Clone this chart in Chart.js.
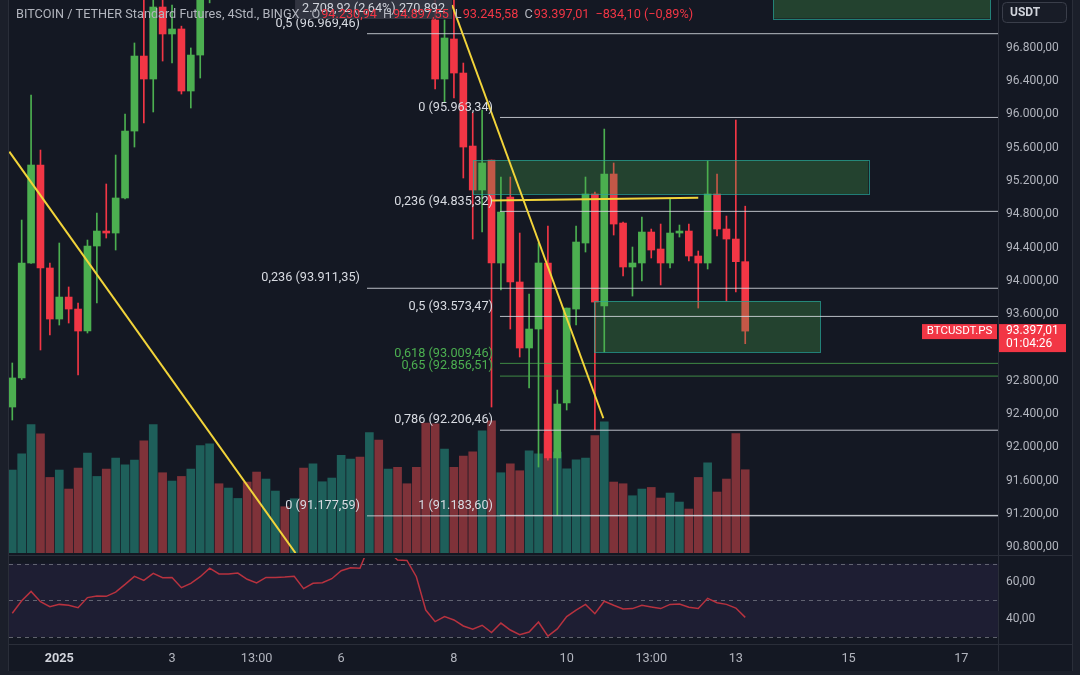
<!DOCTYPE html>
<html lang="de">
<head>
<meta charset="UTF-8" />
<title>BTCUSDT.PS 4Std. - BINGX</title>
<style>
  html, body { margin: 0; padding: 0; background: #141823; }
  body { width: 1080px; height: 675px; overflow: hidden; position: relative; font-family: Roboto, "Noto Sans", sans-serif; }
  .pane { position: absolute; left: 0; width: 1080px; }
  #mainPane { top: 0; height: 553px; }
  #rsiPane { top: 553px; height: 122px; }
  .rule { position: absolute; background: #2a2e39; pointer-events: none; }
</style>
</head>
<body>
<div class="pane" id="mainPane"><canvas id="mainChart"></canvas></div>
<div class="pane" id="rsiPane"><canvas id="rsiChart"></canvas></div>

<!-- frame and pane separators -->
<div class="rule" style="left:0;top:0;width:8px;height:675px;background:#1b1f2a"></div>
<div class="rule" style="left:8px;top:0;width:1px;height:671px"></div>
<div class="rule" style="left:998px;top:0;width:1px;height:671px"></div>
<div class="rule" style="left:1073px;top:0;width:7px;height:675px;background:#1b1f2a"></div>
<div class="rule" style="left:1072px;top:0;width:1px;height:671px"></div>
<div class="rule" style="left:9px;top:555px;width:1064px;height:1px"></div>
<div class="rule" style="left:9px;top:644px;width:1064px;height:1px"></div>
<div class="rule" style="left:0;top:671px;width:1080px;height:4px;background:#1b1f2a"></div>

<script src="https://cdn.jsdelivr.net/npm/chart.js"></script>
<script>
  // 4h candles, BTC/USDT perpetual, 31.12.2024 21:00 .. 13.01.2025 05:00
  const opens = [
    92485, 92834, 94215, 95392, 94155, 93542, 93806, 93662, 93398, 94419,
    94599, 94575, 94996, 95800, 96701, 96425, 97290, 96966, 97026, 96281,
    96713, 97560, 97950, 97700, 98200, 98600, 98150, 97900, 98150, 98350,
    98050, 98250, 97950, 98200, 98450, 98900, 99450, 100200, 99900, 102100,
    101700, 102200, 101600, 101100, 99300, 97134, 96425, 96906, 96497, 95620,
    95092, 95452, 94215, 95008, 93987, 93194, 93422, 94215, 91873, 92533,
    93662, 94455, 95044, 93698, 95284, 94695, 94167, 94215, 94587, 94383,
    94215, 94575, 94599, 94299, 94215, 95044, 94623, 94503, 94230.94,
  ];
  const highs = [
    93014, 94731, 96233, 95572, 94215, 94455, 93927, 93734, 94491, 94815,
    95164, 95512, 96005, 96858, 97480, 97520, 97430, 97314, 97060, 96798,
    97750, 98100, 98300, 98400, 98800, 98700, 98300, 98300, 98500, 98400,
    98350, 98400, 98300, 98600, 99000, 99600, 100400, 100500, 102500, 102300,
    102700, 102400, 101800, 101300, 99500, 97500, 97134, 97380, 96617, 96017,
    96053, 95452, 95248, 95248, 94575, 93842, 94455, 94659, 92689, 93674,
    94659, 95248, 95068, 95824, 95416, 94707, 94407, 94767, 94623, 94683,
    94984, 94671, 94683, 94359, 95440, 95284, 94779, 95933, 94897.55,
  ];
  const lows = [
    92329, 92815, 94210, 93170, 93350, 93470, 93494, 92870, 93374, 93734,
    94515, 94371, 94984, 95608, 95897, 96029, 96641, 96617, 96245, 96077,
    96437, 97340, 97600, 97600, 98000, 98000, 97700, 97800, 98000, 97950,
    97900, 97800, 97850, 98100, 98300, 98800, 99300, 99700, 99800, 101400,
    101500, 101300, 100800, 99000, 97420, 96305, 96149, 96197, 95236, 94503,
    94587, 92485, 93891, 93422, 93086, 92713, 91764, 91848, 91184, 92449,
    93470, 94347, 92209, 93146, 94551, 94059, 93818, 93999, 94275, 93951,
    94155, 94527, 94239, 93674, 94143, 94539, 93758, 93867, 93245.58,
  ];
  const closes = [
    92834, 94215, 95392, 94155, 93542, 93806, 93662, 93398, 94419, 94599,
    94575, 94996, 95800, 96701, 96425, 97290, 96966, 97026, 96281, 96713,
    97560, 97950, 97700, 98200, 98600, 98150, 97900, 98150, 98350, 98050,
    98250, 97950, 98200, 98450, 98900, 99450, 100200, 99900, 102100, 101700,
    102200, 101600, 101100, 99300, 97450, 96425, 96918, 96497, 95608, 95092,
    95416, 94215, 94827, 93987, 93194, 93422, 94215, 91873, 92521, 93674,
    94467, 95044, 93746, 95284, 94683, 94167, 94215, 94587, 94371, 94215,
    94575, 94599, 94299, 94215, 95044, 94623, 94503, 94231.11, 93397.01,
  ];
  // volume per candle, thousands
  const volumeK = [
    8.30, 9.93, 12.86, 11.93, 7.56, 8.30, 6.40, 8.50, 10.00, 7.66,
    8.40, 9.50, 8.83, 9.30, 11.23, 12.86, 8.03, 7.20, 7.66, 8.40,
    10.76, 10.93, 6.93, 6.50, 5.46, 7.10, 8.10, 7.40, 6.20, 4.63,
    5.43, 8.50, 8.93, 7.13, 7.50, 9.76, 9.40, 9.60, 12.06, 11.30,
    8.40, 8.56, 6.93, 8.56, 13.00, 12.93, 10.40, 8.56, 9.70, 10.13,
    12.23, 13.23, 8.03, 8.93, 8.23, 10.23, 9.93, 12.00, 10.10, 8.43,
    9.33, 9.50, 11.76, 13.13, 7.10, 6.93, 5.73, 6.40, 6.56, 5.50,
    6.00, 5.10, 4.40, 7.56, 9.03, 6.10, 7.40, 11.96, 8.33,
  ];
  const rsiValues = [
    43.0, 49.8, 54.9, 49.3, 46.5, 47.8, 47.3, 46.0, 51.5, 52.4,
    52.2, 54.5, 58.7, 63.1, 60.9, 64.7, 62.4, 62.5, 56.9, 59.3,
    62.9, 67.6, 64.4, 64.4, 64.9, 61.5, 59.5, 62.5, 62.5, 62.7,
    63.1, 56.4, 59.3, 59.6, 61.8, 66.2, 67.8, 67.5, 80.0, 78.0,
    77.0, 72.0, 71.8, 62.9, 44.7, 38.4, 41.1, 39.3, 36.0, 34.2,
    36.4, 32.4, 37.6, 33.8, 31.3, 32.7, 38.2, 30.5, 34.4, 41.1,
    44.7, 47.8, 42.7, 49.5, 47.3, 45.3, 45.5, 47.3, 46.4, 45.5,
    47.8, 48.0, 46.2, 45.6, 51.1, 48.7, 47.8, 45.8, 40.7,
  ];

  // axis ticks (x in candle numbers)
  const timeTickIdx = [5, 17, 26, 35, 47, 59, 68, 77, 89, 101];
  const timeTickLabels = ["2025", "3", "13:00", "6", "8", "10", "13:00", "13", "15", "17"];
  const priceTicks = [90800, 91200, 91600, 92000, 92400, 92800, 93600, 94000, 94400, 94800, 95200, 95600, 96000, 96400, 96800];
  const rsiTicks = [40, 60];
  const rsiBands = [70, 50, 30];

  // fibonacci retracements
  const fibAStart = 37.75;
  const fibALevels = ["0,5", "0,236", "0"];
  const fibAPrices = [96969.46, 93911.35, 91177.59];
  const fibBStart = 51.9;
  const fibBLevels = ["0", "0,236", "0,5", "0,618", "0,65", "0,786", "1"];
  const fibBPrices = [95963.34, 94835.32, 93573.47, 93009.46, 92856.51, 92206.46, 91183.6];

  // trend lines [candle, price]
  const trendFrom = [[-0.32, 95552], [46.8, 97314], [50.95, 94966]];
  const trendTo = [[30.14, 90731], [62.9, 92350], [73.0, 95000]];

  // zones [candle from, candle to, price top, price bottom]
  const zones = [
    [49.0, 91.1, 95452, 95044],
    [61.9, 86.0, 93759, 93142],
    [81.0, 104.1, 97700, 97152],
  ];

  const seriesTitle = "BITCOIN / TETHER Standard Futures, 4Std., BINGX";
  const symbolTag = "BTCUSDT.PS";
  const measureText = "2.708,92 (2,64%) 270.892";
  const countdown = "01:04:26";

  // visible window
  const xMin = -0.35, xMax = 104.9;
  const priceMin = 90731.5, priceMax = 97374.2;
  const volMax = 55.33;
  const rsiMin = 26.18, rsiMax = 73.11;

  const UP = "#4caf50", DOWN = "#f23645";
  const VOL_UP = "#1e5f5a", VOL_DOWN = "#7f3239";
  const FONT = "Roboto";
  const greenLevels = ["0,618", "0,65"];

  function de(v, d) {
    const neg = v < 0;
    let [a, b] = Math.abs(v).toFixed(d).split(".");
    a = a.replace(/\B(?=(\d{3})+(?!\d))/g, ".");
    return (neg ? "\u2212" : "") + a + (b ? "," + b : "");
  }

  const isUp = opens.map((o, i) => closes[i] >= o);

  const fibDatasets = [];
  fibAPrices.forEach((p) => {
    fibDatasets.push({
      type: "line", yAxisID: "y", order: 5, clip: 0,
      data: [{ x: fibAStart, y: p }, { x: xMax + 1, y: p }],
      borderColor: "rgba(214,217,224,0.85)", borderWidth: 1, pointRadius: 0,
    });
  });
  fibBPrices.forEach((p, k) => {
    const green = greenLevels.includes(fibBLevels[k]);
    fibDatasets.push({
      type: "line", yAxisID: "y", order: 5, clip: 0,
      data: [{ x: fibBStart, y: p }, { x: xMax + 1, y: p }],
      borderColor: green ? "rgba(76,175,80,0.75)" : "rgba(214,217,224,0.85)", borderWidth: 1, pointRadius: 0,
    });
  });
  const trendDatasets = trendFrom.map((f, k) => ({
    type: "line", yAxisID: "y", order: 4, clip: 0,
    data: [{ x: f[0], y: f[1] }, { x: trendTo[k][0], y: trendTo[k][1] }],
    borderColor: "#f2d43a", borderWidth: 2, pointRadius: 0,
  }));

  const mainOverlay = {
    id: "mainOverlay",
    afterDatasetDraw(chart, args) {
      if (args.index !== 2) return; // zones go over the candle bodies
      const { ctx, chartArea, scales: { x, y } } = chart;
      ctx.save();
      ctx.beginPath();
      ctx.rect(chartArea.left, chartArea.top, chartArea.width, chartArea.height);
      ctx.clip();
      zones.forEach((z) => {
        const x0 = x.getPixelForValue(z[0]), x1 = x.getPixelForValue(z[1]);
        const y0 = y.getPixelForValue(z[2]), y1 = y.getPixelForValue(z[3]);
        ctx.fillStyle = "rgba(76,175,80,0.28)";
        ctx.fillRect(x0, y0, x1 - x0, y1 - y0);
        ctx.strokeStyle = "rgba(38,166,154,0.7)";
        ctx.lineWidth = 1;
        ctx.strokeRect(Math.round(x0) + 0.5, Math.round(y0) + 0.5, Math.round(x1 - x0), Math.round(y1 - y0));
      });
      ctx.restore();
    },
    afterDatasetsDraw(chart) {
      const { ctx, scales: { x, y } } = chart;
      ctx.save();
      ctx.font = "12.7px " + FONT;
      ctx.textAlign = "right";
      ctx.textBaseline = "middle";
      const put = (start, levels, prices) => {
        const lx = x.getPixelForValue(start) - 7;
        levels.forEach((lv, k) => {
          ctx.fillStyle = greenLevels.includes(lv) && levels === fibBLevels ? "#4caf50" : "#d8dbe2";
          ctx.fillText(lv + " (" + de(prices[k], 2) + ")", lx, y.getPixelForValue(prices[k]) - 10);
        });
      };
      put(fibAStart, fibALevels, fibAPrices);
      put(fibBStart, fibBLevels, fibBPrices);
      ctx.restore();
    },
    afterDraw(chart) {
      const { ctx, scales: { x, y } } = chart;
      const last = closes.length - 1;
      ctx.save();
      ctx.font = "12.7px " + FONT;
      ctx.textBaseline = "middle";

      // trend line measurement label
      const mw = ctx.measureText(measureText).width;
      const mx1 = x.getPixelForValue(trendFrom[1][0]);
      ctx.fillStyle = "rgba(54,58,69,0.85)";
      ctx.fillRect(mx1 - mw - 14, 0, mw + 14, 19);
      ctx.fillStyle = "#d1d4dc";
      ctx.textAlign = "center";
      ctx.fillText(measureText, mx1 - mw / 2 - 7, 9);

      // legend row
      ctx.textAlign = "left";
      let px = 16;
      ctx.fillStyle = "#b2b5be";
      ctx.fillText(seriesTitle, px, 15);
      px += ctx.measureText(seriesTitle).width + 12;
      const chg = closes[last] - closes[last - 1];
      [["O", opens[last]], ["H", highs[last]], ["L", lows[last]], ["C", closes[last]]].forEach(([k, v]) => {
        ctx.fillStyle = "#b2b5be";
        ctx.fillText(k, px, 15);
        px += ctx.measureText(k).width + 1;
        ctx.fillStyle = DOWN;
        const s = de(v, 2);
        ctx.fillText(s, px, 15);
        px += ctx.measureText(s).width + 6;
      });
      ctx.fillText(de(chg, 2) + " (" + de((chg / closes[last - 1]) * 100, 2) + "%)", px, 15);

      // currency button
      ctx.strokeStyle = "#3a3e4a";
      ctx.fillStyle = "#181c27";
      ctx.beginPath();
      ctx.roundRect(1002.5, 2.5, 64, 20, 4);
      ctx.fill();
      ctx.stroke();
      ctx.fillStyle = "#d1d4dc";
      ctx.font = "bold 12px " + FONT;
      ctx.fillText("USDT", 1010, 13);

      // last price label
      const yc = y.getPixelForValue(closes[last]);
      ctx.fillStyle = DOWN;
      ctx.fillRect(999, yc - 7, 67, 28);
      ctx.fillRect(922, yc - 7, 75, 15);
      ctx.fillStyle = "#ffffff";
      ctx.font = "12px " + FONT;
      ctx.fillText(de(closes[last], 2), 1006, yc);
      ctx.fillText(countdown, 1006, yc + 13);
      ctx.font = "11.5px " + FONT;
      ctx.textAlign = "center";
      ctx.fillText(symbolTag, 959.5, yc + 0.5);
      ctx.restore();
    },
  };

  new Chart(document.getElementById("mainChart"), {
    type: "bar",
    data: {
      datasets: [
        {
          label: "Volumen",
          yAxisID: "yv",
          order: 10,
          grouped: false,
          barThickness: 8,
          data: volumeK.map((v, i) => ({ x: i, y: v })),
          backgroundColor: isUp.map((u) => (u ? VOL_UP : VOL_DOWN)),
        },
        {
          label: "Docht",
          yAxisID: "y",
          order: 9,
          grouped: false,
          clip: 0,
          barThickness: 1,
          data: lows.map((l, i) => ({ x: i, y: [l, highs[i]] })),
          backgroundColor: isUp.map((u) => (u ? UP : DOWN)),
        },
        {
          label: "Kerze",
          yAxisID: "y",
          order: 8,
          grouped: false,
          clip: 0,
          barThickness: 7,
          minBarLength: 1,
          data: opens.map((o, i) => ({ x: i, y: [o, closes[i]] })),
          backgroundColor: isUp.map((u) => (u ? UP : DOWN)),
        },
        ...fibDatasets,
        ...trendDatasets,
      ],
    },
    options: {
      responsive: true,
      maintainAspectRatio: false,
      animation: false,
      devicePixelRatio: 1,
      events: [],
      layout: { padding: { left: 9, right: 0, top: 0, bottom: 0 } },
      plugins: { legend: { display: false }, tooltip: { enabled: false } },
      scales: {
        x: { type: "linear", min: xMin, max: xMax, offset: false, display: false, grid: { display: false } },
        y: {
          type: "linear",
          position: "right",
          min: priceMin,
          max: priceMax,
          grid: { display: false, drawTicks: false },
          border: { display: false },
          afterBuildTicks(s) { s.ticks = priceTicks.map((v) => ({ value: v })); },
          afterFit(s) { s.width = 82; s.paddingTop = 0; s.paddingBottom = 0; },
          ticks: { padding: 8, color: "#b2b5be", font: { family: FONT, size: 12 }, callback: (v) => de(v, 2) },
        },
        yv: { type: "linear", position: "right", display: false, min: 0, max: volMax },
      },
    },
    plugins: [mainOverlay],
  });

  const rsiBackdrop = {
    id: "rsiBackdrop",
    beforeDatasetsDraw(chart) {
      const { ctx, chartArea, scales: { y } } = chart;
      const yTop = y.getPixelForValue(rsiBands[0]);
      const yBot = y.getPixelForValue(rsiBands[rsiBands.length - 1]);
      ctx.save();
      ctx.fillStyle = "rgba(126,87,194,0.1)";
      ctx.fillRect(chartArea.left, yTop, chartArea.width, yBot - yTop);
      ctx.strokeStyle = "rgba(120,123,134,0.75)";
      ctx.lineWidth = 1;
      ctx.setLineDash([4, 4]);
      rsiBands.forEach((b) => {
        const yy = Math.round(y.getPixelForValue(b)) + 0.5;
        ctx.beginPath();
        ctx.moveTo(chartArea.left, yy);
        ctx.lineTo(chartArea.right, yy);
        ctx.stroke();
      });
      ctx.restore();
    },
  };

  new Chart(document.getElementById("rsiChart"), {
    type: "line",
    data: {
      datasets: [
        {
          label: "RSI",
          data: rsiValues.map((v, i) => ({ x: i, y: v })),
          borderColor: "#b8323f",
          borderWidth: 1.5,
          pointRadius: 0,
          tension: 0,
          clip: 0,
        },
      ],
    },
    options: {
      responsive: true,
      maintainAspectRatio: false,
      animation: false,
      devicePixelRatio: 1,
      events: [],
      layout: { padding: { left: 9, right: 0, top: 5, bottom: 0 } },
      plugins: { legend: { display: false }, tooltip: { enabled: false } },
      scales: {
        x: {
          type: "linear",
          min: xMin,
          max: xMax,
          offset: false,
          grid: { display: false, drawTicks: false },
          border: { display: false },
          afterBuildTicks(s) { s.ticks = timeTickIdx.map((v) => ({ value: v })); },
          afterFit(s) { s.height = 31; s.paddingLeft = 0; s.paddingRight = 0; },
          ticks: {
            autoSkip: false,
            maxRotation: 0,
            padding: 7,
            callback: (v, i) => timeTickLabels[i],
            color: (c) => (c.index === 0 ? "#d1d4dc" : "#b2b5be"),
            font: (c) => ({ family: FONT, size: 12.7, weight: c.index === 0 ? "bold" : "normal" }),
          },
        },
        y: {
          type: "linear",
          position: "right",
          min: rsiMin,
          max: rsiMax,
          grid: { display: false, drawTicks: false },
          border: { display: false },
          afterBuildTicks(s) { s.ticks = rsiTicks.map((v) => ({ value: v })); },
          afterFit(s) { s.width = 82; s.paddingTop = 0; s.paddingBottom = 0; },
          ticks: { padding: 8, color: "#b2b5be", font: { family: FONT, size: 12 }, callback: (v) => de(v, 2) },
        },
      },
    },
    plugins: [rsiBackdrop],
  });
</script>
</body>
</html>
